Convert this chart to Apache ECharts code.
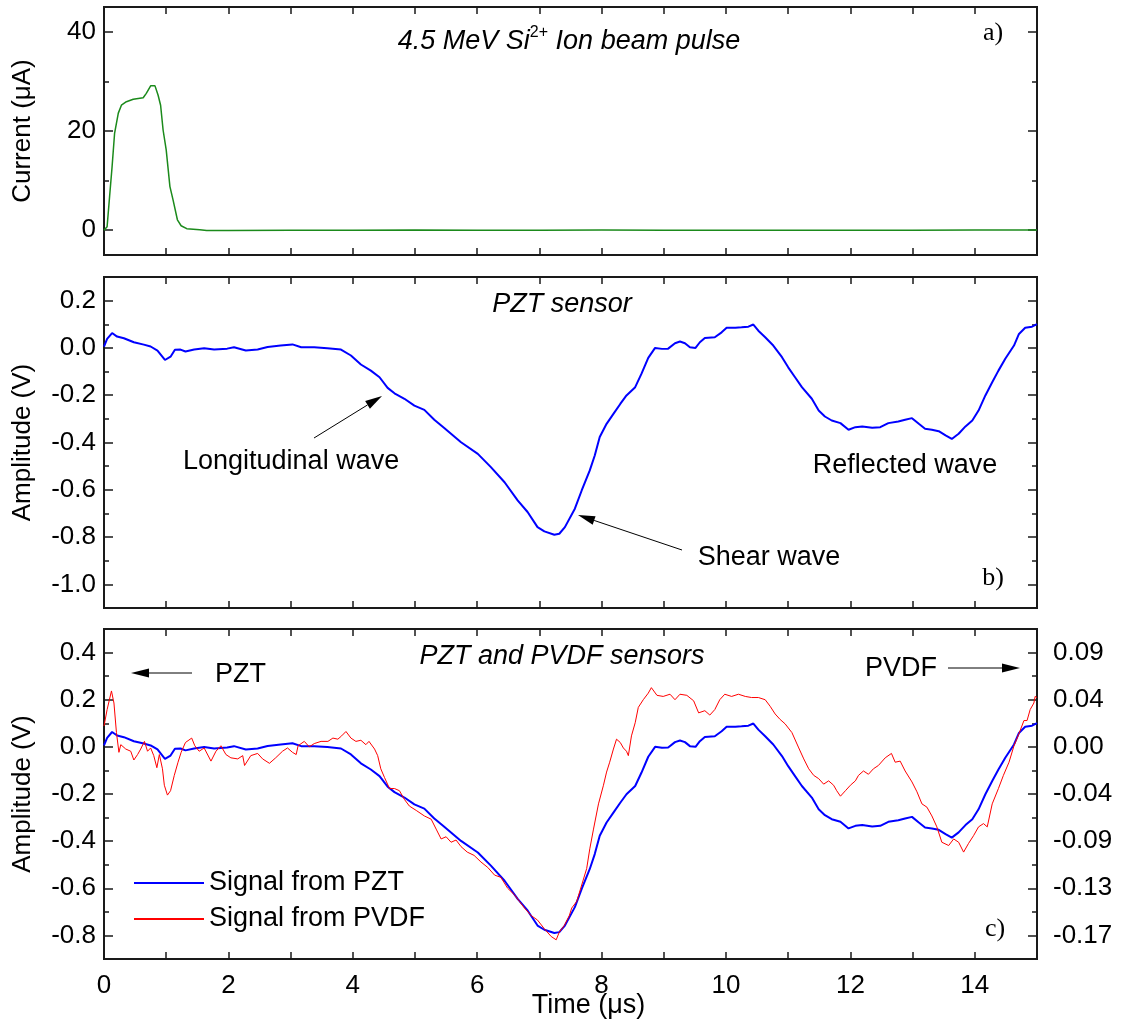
<!DOCTYPE html>
<html><head><meta charset="utf-8">
<script src="https://cdn.jsdelivr.net/npm/echarts@6/dist/echarts.min.js"></script>
<style>html,body{margin:0;padding:0;background:#fff}#c{width:1122px;height:1023px}</style>
</head><body><div id="c"></div>
<script>
// ---------- data ----------
const beamTime = [0,0.05,0.09,0.13,0.17,0.23,0.28,0.36,0.47,0.63,0.68,0.75,0.82,0.87,0.91,0.95,1.00,1.06,1.11,1.18,1.24,1.33,1.54,1.65,2,3,4,5,6,7,8,9,10,11,12,13,14,15];
const beamCurrent = [0,0.7,6.8,12.8,19.5,23.6,25.2,25.9,26.4,26.7,27.6,29.1,29.1,27.2,25.2,20.2,16.2,8.8,6.1,2.1,0.9,0.3,0.07,-0.05,-0.05,-0.02,0,0.02,0,0,0.02,0.01,0,0,0,0,0.02,0.05];

const pztTime = [0,0.05,0.13,0.21,0.32,0.48,0.64,0.75,0.86,0.98,1.07,1.14,1.23,1.31,1.45,1.61,1.77,1.98,2.09,2.28,2.47,2.63,2.84,3.03,3.17,3.38,3.59,3.81,3.97,4.13,4.29,4.43,4.56,4.67,4.83,4.99,5.15,5.31,5.47,5.74,6.01,6.22,6.44,6.65,6.81,6.97,7.08,7.24,7.32,7.41,7.57,7.68,7.81,7.89,7.97,8.08,8.19,8.30,8.40,8.54,8.64,8.75,8.86,8.97,9.07,9.18,9.26,9.34,9.42,9.51,9.58,9.66,9.82,9.93,10.01,10.15,10.25,10.36,10.44,10.52,10.63,10.76,10.90,11.00,11.11,11.22,11.38,11.49,11.59,11.70,11.84,11.97,12.08,12.19,12.35,12.48,12.61,12.77,12.88,12.99,13.10,13.20,13.31,13.42,13.53,13.63,13.74,13.85,13.96,14.06,14.17,14.28,14.38,14.49,14.63,14.71,14.81,14.92,15.00];
const pztAmp = [0.006,0.038,0.063,0.048,0.041,0.024,0.014,0.006,-0.011,-0.051,-0.037,-0.008,-0.007,-0.015,-0.007,-0.001,-0.007,-0.003,0.003,-0.011,-0.007,0.004,0.010,0.015,0.003,0.003,-0.001,-0.007,-0.032,-0.070,-0.096,-0.124,-0.169,-0.192,-0.215,-0.244,-0.262,-0.304,-0.339,-0.399,-0.448,-0.504,-0.568,-0.645,-0.694,-0.758,-0.776,-0.790,-0.786,-0.758,-0.680,-0.603,-0.518,-0.455,-0.377,-0.321,-0.279,-0.237,-0.201,-0.166,-0.110,-0.042,0.000,-0.004,-0.003,0.020,0.027,0.020,0.003,0.000,0.024,0.042,0.045,0.066,0.085,0.085,0.087,0.090,0.099,0.073,0.045,0.010,-0.039,-0.082,-0.124,-0.166,-0.215,-0.265,-0.290,-0.307,-0.318,-0.346,-0.335,-0.332,-0.338,-0.335,-0.318,-0.311,-0.304,-0.297,-0.321,-0.342,-0.346,-0.352,-0.370,-0.385,-0.363,-0.332,-0.307,-0.265,-0.201,-0.145,-0.096,-0.046,0.010,0.059,0.085,0.090,0.101];

const pvdfTime = [0,0.05,0.12,0.16,0.20,0.24,0.27,0.35,0.43,0.48,0.54,0.59,0.65,0.70,0.75,0.80,0.85,0.89,0.94,0.97,1.02,1.07,1.13,1.19,1.24,1.31,1.41,1.46,1.53,1.61,1.72,1.80,1.88,1.96,2.04,2.15,2.23,2.26,2.36,2.47,2.55,2.66,2.76,2.87,2.95,3.03,3.09,3.12,3.22,3.30,3.38,3.49,3.60,3.68,3.76,3.82,3.89,3.97,4.05,4.13,4.21,4.26,4.35,4.40,4.45,4.51,4.59,4.67,4.75,4.83,4.91,5.02,5.15,5.26,5.34,5.42,5.50,5.58,5.66,5.74,5.84,5.95,6.06,6.17,6.28,6.38,6.49,6.60,6.68,6.76,6.87,6.97,7.08,7.19,7.27,7.32,7.40,7.48,7.52,7.60,7.68,7.76,7.81,7.87,7.95,8.03,8.08,8.13,8.19,8.24,8.30,8.35,8.40,8.43,8.48,8.54,8.59,8.67,8.75,8.80,8.89,8.99,9.10,9.18,9.26,9.37,9.48,9.56,9.66,9.74,9.82,9.90,9.98,10.09,10.20,10.31,10.41,10.52,10.63,10.71,10.79,10.87,10.95,11.06,11.17,11.25,11.33,11.41,11.49,11.57,11.65,11.73,11.78,11.84,11.92,12.00,12.08,12.13,12.21,12.29,12.37,12.45,12.56,12.66,12.72,12.80,12.88,12.99,13.07,13.15,13.23,13.31,13.39,13.47,13.58,13.66,13.74,13.82,13.90,13.98,14.06,14.14,14.20,14.28,14.38,14.46,14.55,14.63,14.71,14.79,14.84,14.89,14.95,14.97,15.00];
const pvdfAmp = [0.019,0.034,0.051,0.040,0.013,-0.005,0.002,-0.002,-0.004,-0.012,-0.007,-0.002,0.005,-0.004,-0.001,-0.008,-0.019,-0.007,-0.020,-0.035,-0.044,-0.040,-0.026,-0.014,-0.005,0.004,0.008,0.001,-0.004,-0.001,-0.013,-0.004,0.001,-0.007,-0.010,-0.011,-0.008,-0.017,-0.008,-0.006,-0.011,-0.015,-0.010,-0.004,-0.001,-0.005,-0.007,0.001,0.005,0.000,0.003,0.005,0.005,0.008,0.007,0.010,0.014,0.008,0.005,0.006,0.002,0.005,-0.002,-0.008,-0.020,-0.028,-0.038,-0.038,-0.040,-0.048,-0.054,-0.058,-0.063,-0.066,-0.075,-0.084,-0.082,-0.087,-0.085,-0.091,-0.096,-0.099,-0.105,-0.110,-0.117,-0.119,-0.129,-0.135,-0.141,-0.147,-0.154,-0.158,-0.166,-0.173,-0.176,-0.169,-0.163,-0.154,-0.147,-0.141,-0.126,-0.111,-0.093,-0.075,-0.052,-0.035,-0.023,-0.014,-0.002,0.007,0.004,-0.001,-0.004,-0.008,0.010,0.022,0.036,0.043,0.049,0.054,0.047,0.046,0.048,0.043,0.048,0.047,0.042,0.031,0.033,0.029,0.034,0.043,0.048,0.046,0.048,0.046,0.045,0.045,0.043,0.037,0.030,0.025,0.021,0.013,-0.001,-0.011,-0.020,-0.026,-0.029,-0.034,-0.031,-0.035,-0.040,-0.045,-0.040,-0.035,-0.031,-0.026,-0.022,-0.025,-0.020,-0.017,-0.010,-0.006,-0.014,-0.013,-0.022,-0.032,-0.041,-0.052,-0.055,-0.063,-0.073,-0.087,-0.090,-0.084,-0.087,-0.096,-0.088,-0.081,-0.073,-0.070,-0.073,-0.052,-0.038,-0.026,-0.014,0.001,0.012,0.024,0.024,0.034,0.040,0.046,0.045];

// axis ticks / labels
const timeLabels = [0,2,4,6,8,10,12,14];
const currentMajor = [0,20,40];
const currentMinor = [10,30];
const ampMajorB = [0.2,0,-0.2,-0.4,-0.6,-0.8,-1.0];
const ampMinorB = [0.1,-0.1,-0.3,-0.5,-0.7,-0.9];
const ampMajorC = [0.4,0.2,0,-0.2,-0.4,-0.6,-0.8];
const ampMinorC = [0.3,0.1,-0.1,-0.3,-0.5,-0.7];
const pvdfTickValues = [0.086,0.043,0,-0.043,-0.086,-0.129,-0.172];
const pvdfTickLabels = ['0.09','0.04','0.00','-0.04','-0.09','-0.13','-0.17'];

// ---------- layout ----------
const FONT = '"Liberation Sans", Arial, sans-serif';
const SERIF = '"Liberation Serif", "Times New Roman", serif';
const TICK = {color:'#1a1a1a', width:1.5};
const grids = [
  {left:104, top:7,   width:933, height:248, show:true, borderColor:'#1a1a1a', borderWidth:2, outerBoundsMode:'none'},
  {left:104, top:277, width:933, height:331, show:true, borderColor:'#1a1a1a', borderWidth:2, outerBoundsMode:'none'},
  {left:104, top:629, width:933, height:330, show:true, borderColor:'#1a1a1a', borderWidth:2, outerBoundsMode:'none'}
];
const xAxes = [], yAxes = [];
function xAx(g, pos, withLabels){
  xAxes.push({
    type:'value', gridIndex:g, position:pos, min:0, max:15, interval:1,
    axisLine:{show:false, onZero:false}, splitLine:{show:false},
    axisTick:{show:true, inside:true, length:7, lineStyle:TICK},
    axisLabel: withLabels ? {show:true, customValues:timeLabels, margin:14, fontSize:26, color:'#000', fontFamily:FONT} : {show:false},
    name: withLabels ? 'Time (\u03bcs)' : '', nameLocation:'middle', nameGap:33, nameMoveOverlap:false,
    nameTextStyle:{fontSize:27, color:'#000', fontFamily:FONT, padding:[0,0,0,36]}
  });
  return xAxes.length - 1;
}
function yAx(g, pos, min, max, ticks, len, labels, fmt, name, margin){
  yAxes.push({
    type:'value', gridIndex:g, position:pos, min:min, max:max,
    axisLine:{show:false, onZero:false}, splitLine:{show:false},
    axisTick:{show:true, inside:true, length:len, customValues:ticks, lineStyle:TICK},
    axisLabel: labels ? {show:true, customValues:labels, formatter:fmt, margin:margin||8, fontSize:26, color:'#000', fontFamily:FONT} : {show:false},
    name: name || '', nameLocation:'middle', nameGap:68,
    nameTextStyle:{fontSize:26, color:'#000', fontFamily:FONT}
  });
  return yAxes.length - 1;
}
const xIdx = [];
for (let g = 0; g < 3; g++) {
  xIdx.push(xAx(g, 'bottom', g === 2));
  xAx(g, 'top', false);
}
const fmtInt = v => String(Math.round(v));
const fmt1 = v => v.toFixed(1);
const fmtPvdf = v => {
  let best = 0;
  pvdfTickValues.forEach((t, i) => { if (Math.abs(t - v) < Math.abs(pvdfTickValues[best] - v)) best = i; });
  return pvdfTickLabels[best];
};
// panel a
const yA = yAx(0,'left',-5,45,currentMajor,9,currentMajor,fmtInt,'Current (\u03bcA)');
yAx(0,'left',-5,45,currentMinor,5);
yAx(0,'right',-5,45,currentMajor,9);
yAx(0,'right',-5,45,currentMinor,5);
// panel b
const yB = yAx(1,'left',-1.1,0.3,ampMajorB,9,ampMajorB,fmt1,'Amplitude (V)');
yAx(1,'left',-1.1,0.3,ampMinorB,5);
yAx(1,'right',-1.1,0.3,ampMajorB,9);
yAx(1,'right',-1.1,0.3,ampMinorB,5);
// panel c
const yC = yAx(2,'left',-0.9,0.5,ampMajorC,9,ampMajorC,fmt1,'Amplitude (V)');
yAx(2,'left',-0.9,0.5,ampMinorC,5);
yAx(2,'right',-0.9,0.5,ampMinorC,5);
const yPvdf = yAx(2,'right',-0.9*0.215,0.5*0.215,pvdfTickValues,9,pvdfTickValues,fmtPvdf,'',16);

const zip = (a, b) => a.map((t, i) => [t, b[i]]);

// ---------- annotations ----------
function arrow(x1,y1,x2,y2,hl,hw){
  const a = Math.atan2(y2-y1, x2-x1);
  const bx = x2 - hl*Math.cos(a), by = y2 - hl*Math.sin(a);
  const px = -Math.sin(a)*hw/2, py = Math.cos(a)*hw/2;
  return [
    {type:'line', shape:{x1:x1,y1:y1,x2:bx,y2:by}, style:{stroke:'#000', lineWidth:1}},
    {type:'polygon', shape:{points:[[x2,y2],[bx+px,by+py],[bx-px,by-py]]}, style:{fill:'#000'}}
  ];
}
function txt(s, x, y, opt){
  return {type:'text', style:Object.assign({text:s, x:x, y:y, fill:'#000', fontSize:27, fontFamily:FONT, align:'left', verticalAlign:'middle'}, opt||{})};
}
const graphics = [].concat(
  [{type:'text', style:{text:'{i|4.5 MeV Si}{s|2+}{i| Ion beam pulse}', x:569, y:41, align:'center', verticalAlign:'middle', fill:'#000',
     rich:{i:{fontSize:27, fontStyle:'italic', fontFamily:FONT, lineHeight:32, fill:'#000'},
           s:{fontSize:16, fontFamily:FONT, verticalAlign:'top', lineHeight:18, fill:'#000'}}}}],
  [txt('a)', 993, 33, {fontFamily:SERIF, fontSize:26, align:'center'})],
  [txt('PZT sensor', 562, 304, {fontStyle:'italic', align:'center'})],
  [txt('Longitudinal wave', 183, 462)],
  arrow(314,438,382,396,17,9),
  [txt('Reflected wave', 905, 466, {align:'center'})],
  [txt('Shear wave', 769, 558, {align:'center'})],
  arrow(682,550,578,515,17,9),
  [txt('b)', 993, 578, {fontFamily:SERIF, fontSize:26, align:'center'})],
  [txt('PZT and PVDF sensors', 562, 656, {fontStyle:'italic', align:'center'})],
  [txt('PZT', 215, 675)],
  arrow(192,673,131,673,18,9),
  [txt('PVDF', 865, 669)],
  arrow(948,668,1020,668,18,9),
  [txt('c)', 995, 929, {fontFamily:SERIF, fontSize:26, align:'center'})]
);

const chart = echarts.init(document.getElementById('c'), null, {renderer:'canvas'});
chart.setOption({
  animation:false,
  backgroundColor:'#fff',
  grid: grids,
  xAxis: xAxes,
  yAxis: yAxes,
  legend: {
    data:['Signal from PZT','Signal from PVDF'], orient:'vertical', left:128, top:863,
    itemWidth:70, itemHeight:14, itemGap:6,
    itemStyle:{opacity:0, borderWidth:0},
    textStyle:{fontSize:27, fontFamily:FONT, color:'#000', lineHeight:30}
  },
  series: [
    {type:'line', name:'Ion beam current', xAxisIndex:xIdx[0], yAxisIndex:yA, data:zip(beamTime, beamCurrent),
     symbol:'none', lineStyle:{color:'#1b8a1b', width:1.5}, itemStyle:{color:'#1b8a1b'}},
    {type:'line', name:'PZT sensor', xAxisIndex:xIdx[1], yAxisIndex:yB, data:zip(pztTime, pztAmp),
     symbol:'none', lineStyle:{color:'#0000ff', width:2}, itemStyle:{color:'#0000ff'}},
    {type:'line', name:'Signal from PZT', xAxisIndex:xIdx[2], yAxisIndex:yC, data:zip(pztTime, pztAmp),
     symbol:'none', lineStyle:{color:'#0000ff', width:2}, itemStyle:{color:'#0000ff'}},
    {type:'line', name:'Signal from PVDF', xAxisIndex:xIdx[2], yAxisIndex:yPvdf, data:zip(pvdfTime, pvdfAmp),
     symbol:'none', lineStyle:{color:'#ff0000', width:1}, itemStyle:{color:'#ff0000'}}
  ],
  graphic: graphics
});
</script>
</body></html>
